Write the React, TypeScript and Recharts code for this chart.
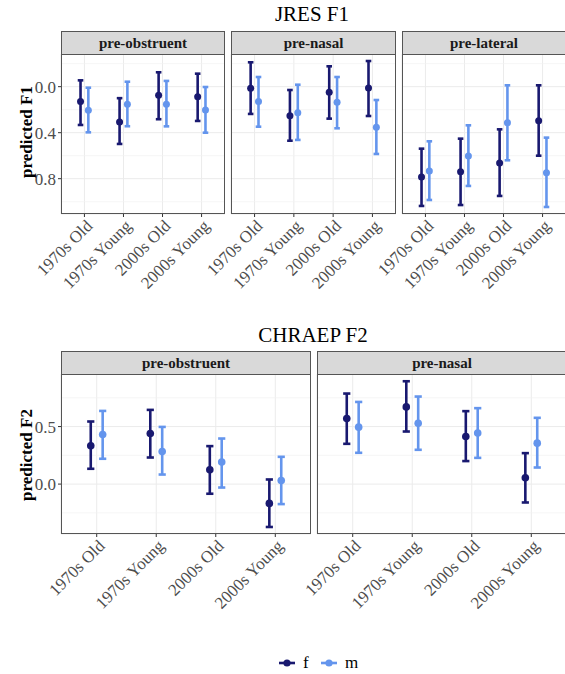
import React from 'react';
import { ScatterChart, Scatter, XAxis, YAxis, CartesianGrid, ErrorBar, ReferenceLine } from 'recharts';

const FONT = '"Liberation Serif", "Times New Roman", serif';

const categories = ['1970s Old', '1970s Young', '2000s Old', '2000s Young'];
const sexes = ['f', 'm'];
const sexColors: Record<string, string> = { f: '#191970', m: '#6495ED' };

// ---- JRES F1 ----
const jresTitle = 'JRES F1';
const jresYLabel = 'predicted F1';
const jresTicks = [0, 0.4, 0.8];
const jresMinor = [-0.2, 0.2, 0.6, 1.0];
const jresDomain = [-0.284, 1.107];

const jresObsF = [0.13, 0.307, 0.075, 0.087];
const jresObsFLo = [-0.055, 0.1, -0.125, -0.113];
const jresObsFHi = [0.333, 0.498, 0.283, 0.298];
const jresObsM = [0.205, 0.153, 0.153, 0.203];
const jresObsMLo = [0.009, -0.043, -0.05, 0.003];
const jresObsMHi = [0.397, 0.344, 0.345, 0.4];

const jresNasF = [0.014, 0.252, 0.049, 0.011];
const jresNasFLo = [-0.212, 0.029, -0.177, -0.223];
const jresNasFHi = [0.237, 0.47, 0.278, 0.255];
const jresNasM = [0.13, 0.226, 0.136, 0.353];
const jresNasMLo = [-0.084, -0.017, -0.084, 0.116];
const jresNasMHi = [0.348, 0.463, 0.362, 0.585];

const jresLatF = [0.785, 0.739, 0.663, 0.296];
const jresLatFLo = [0.539, 0.452, 0.371, -0.012];
const jresLatFHi = [1.037, 1.029, 0.95, 0.6];
const jresLatM = [0.733, 0.603, 0.313, 0.748];
const jresLatMLo = [0.475, 0.336, -0.012, 0.443];
const jresLatMHi = [0.985, 0.863, 0.64, 1.046];

// ---- CHRAEP F2 ----
const chraepTitle = 'CHRAEP F2';
const chraepYLabel = 'predicted F2';
const chraepTicks = [0, 0.5];
const chraepMinor = [-0.25, 0.25, 0.75];
const chraepDomain = [-0.434, 0.957];

const chObsF = [0.333, 0.44, 0.124, -0.168];
const chObsFLo = [0.133, 0.231, -0.084, -0.373];
const chObsFHi = [0.544, 0.645, 0.33, 0.04];
const chObsM = [0.431, 0.283, 0.191, 0.031];
const chObsMLo = [0.22, 0.083, -0.03, -0.174];
const chObsMHi = [0.636, 0.497, 0.396, 0.237];

const chNasF = [0.57, 0.671, 0.413, 0.055];
const chNasFLo = [0.35, 0.457, 0.2, -0.16];
const chNasFHi = [0.787, 0.894, 0.634, 0.269];
const chNasM = [0.495, 0.529, 0.443, 0.356];
const chNasMLo = [0.272, 0.298, 0.228, 0.144];
const chNasMHi = [0.714, 0.761, 0.66, 0.576];

const DODGE = 0.1;

function build(est: number[], lo: number[], hi: number[], offset: number) {
  return categories.map((c, i) => ({
    x: i + offset,
    y: est[i],
    err: [est[i] - lo[i], hi[i] - est[i]],
    cat: c,
  }));
}

const XTick = (props: any) => {
  const { x, y, payload } = props;
  return (
    <g transform={`translate(${x + 9},${y + 8})`}>
      <text textAnchor="end" transform="rotate(-45)" fill="#4d4d4d" fontSize={17} fontFamily={FONT}>
        {categories[payload.value]}
      </text>
    </g>
  );
};

type PanelProps = {
  strip: string;
  plotLeft: number;
  plotTop: number;
  plotW: number;
  plotH: number;
  showY: boolean;
  domain: number[];
  reversed: boolean;
  ticks: number[];
  minor: number[];
  fData: any[];
  mData: any[];
  capW: number;
  r: number;
};

const STRIP_H = 23;
const Y_W = 61;

function Panel(p: PanelProps) {
  const chartLeft = p.plotLeft - Y_W;
  const chartW = p.plotW + Y_W;
  const xAxisH = 100;
  const series = [
    { key: 'f', data: p.fData },
    { key: 'm', data: p.mData },
  ];
  return (
    <>
      <div
        style={{
          position: 'absolute',
          left: p.plotLeft,
          top: p.plotTop - STRIP_H,
          width: p.plotW,
          height: STRIP_H + 1,
          background: '#d9d9d9',
          border: '1px solid #555',
          boxSizing: 'border-box',
          display: 'flex',
          alignItems: 'center',
          justifyContent: 'center',
          fontFamily: FONT,
          fontWeight: 'bold',
          fontSize: 15,
          color: '#1a1a1a',
        }}
      >
        {p.strip}
      </div>
      <div style={{ position: 'absolute', left: chartLeft, top: p.plotTop }}>
        <ScatterChart
          width={chartW}
          height={p.plotH + xAxisH}
          margin={{ top: 0, right: 0, bottom: 0, left: p.showY ? 0 : Y_W }}
        >
          {p.minor.map((v) => (
            <ReferenceLine key={v} y={v} stroke="#f2f2f2" strokeWidth={0.7} ifOverflow="hidden" />
          ))}
          <CartesianGrid stroke="#ebebeb" strokeWidth={1} />
          <XAxis
            type="number"
            dataKey="x"
            domain={[-0.6, 3.6]}
            ticks={[0, 1, 2, 3]}
            interval={0}
            height={xAxisH}
            axisLine={false}
            tickLine={{ stroke: '#333' }}
            tickSize={3}
            tickMargin={2}
            tick={<XTick />}
            allowDataOverflow
          />
          <YAxis
            type="number"
            dataKey="y"
            domain={p.domain}
            reversed={p.reversed}
            ticks={p.ticks}
            interval={0}
            hide={!p.showY}
            width={Y_W}
            axisLine={false}
            tickLine={{ stroke: '#333' }}
            tickSize={3}
            tickMargin={2}
            tick={{ fill: '#4d4d4d', fontSize: 17, fontFamily: FONT }}
            tickFormatter={(v: number) => v.toFixed(1)}
            allowDataOverflow
          />
          {series.map((s) => (
            <Scatter
              key={s.key}
              name={s.key}
              data={s.data}
              fill={sexColors[s.key]}
              isAnimationActive={false}
              shape={(sp: any) => <circle cx={sp.cx} cy={sp.cy} r={p.r} fill={sexColors[s.key]} />}
            >
              <ErrorBar dataKey="err" direction="y" width={p.capW} strokeWidth={2.6} stroke={sexColors[s.key]} isAnimationActive={false} />
            </Scatter>
          ))}
        </ScatterChart>
      </div>
      <div
        style={{
          position: 'absolute',
          left: p.plotLeft,
          top: p.plotTop,
          width: p.plotW,
          height: p.plotH,
          border: '1px solid #555',
          boxSizing: 'border-box',
          pointerEvents: 'none',
        }}
      />
    </>
  );
}

function Title({ text, cx, top }: { text: string; cx: number; top: number }) {
  return (
    <div
      style={{
        position: 'absolute',
        left: cx - 150,
        width: 300,
        top,
        textAlign: 'center',
        fontFamily: FONT,
        fontSize: 21,
        color: '#000',
        lineHeight: '24px',
      }}
    >
      {text}
    </div>
  );
}

function YLabel({ text, x, cy }: { text: string; x: number; cy: number }) {
  return (
    <svg style={{ position: 'absolute', left: 0, top: 0, overflow: 'visible' }} width={1} height={1}>
      <text
        x={x}
        y={cy}
        transform={`rotate(-90, ${x}, ${cy})`}
        textAnchor="middle"
        fontFamily={FONT}
        fontWeight="bold"
        fontSize={17}
        fill="#000"
      >
        {text}
      </text>
    </svg>
  );
}

function Legend() {
  const items = sexes.map((s, i) => ({ s, x0: 279 + i * 42 }));
  return (
    <svg style={{ position: 'absolute', left: 0, top: 640 }} width={565} height={34}>
      {items.map((it) => (
        <g key={it.s}>
          <line x1={it.x0} x2={it.x0 + 16} y1={23} y2={23} stroke={sexColors[it.s]} strokeWidth={2.6} />
          <circle cx={it.x0 + 8} cy={23} r={3.6} fill={sexColors[it.s]} />
          <text x={it.x0 + 24} y={28} fontFamily={FONT} fontSize={17} fill="#000">
            {it.s}
          </text>
        </g>
      ))}
    </svg>
  );
}

export default function App() {
  const topRow = [
    { strip: 'pre-obstruent', left: 61, w: 164, f: build(jresObsF, jresObsFLo, jresObsFHi, -DODGE), m: build(jresObsM, jresObsMLo, jresObsMHi, DODGE) },
    { strip: 'pre-nasal', left: 231, w: 165, f: build(jresNasF, jresNasFLo, jresNasFHi, -DODGE), m: build(jresNasM, jresNasMLo, jresNasMHi, DODGE) },
    { strip: 'pre-lateral', left: 402, w: 164, f: build(jresLatF, jresLatFLo, jresLatFHi, -DODGE), m: build(jresLatM, jresLatMLo, jresLatMHi, DODGE) },
  ];
  const bottomRow = [
    { strip: 'pre-obstruent', left: 61, w: 250, f: build(chObsF, chObsFLo, chObsFHi, -DODGE), m: build(chObsM, chObsMLo, chObsMHi, DODGE) },
    { strip: 'pre-nasal', left: 317, w: 250, f: build(chNasF, chNasFLo, chNasFHi, -DODGE), m: build(chNasM, chNasMLo, chNasMHi, DODGE) },
  ];
  return (
    <div style={{ position: 'absolute', left: 0, top: 0, width: 565, height: 674, background: '#fff', overflow: 'hidden' }}>
      <Title text={jresTitle} cx={312} top={2} />
      {topRow.map((pnl, i) => (
        <Panel
          key={'t' + i}
          strip={pnl.strip}
          plotLeft={pnl.left}
          plotTop={54}
          plotW={pnl.w}
          plotH={160}
          showY={i === 0}
          domain={jresDomain}
          reversed
          ticks={jresTicks}
          minor={jresMinor}
          fData={pnl.f}
          mData={pnl.m}
          capW={2.8}
          r={3.5}
        />
      ))}
      <YLabel text={jresYLabel} x={32} cy={132} />

      <Title text={chraepTitle} cx={313} top={323} />
      {bottomRow.map((pnl, i) => (
        <Panel
          key={'b' + i}
          strip={pnl.strip}
          plotLeft={pnl.left}
          plotTop={374}
          plotW={pnl.w}
          plotH={160}
          showY={i === 0}
          domain={chraepDomain}
          reversed={false}
          ticks={chraepTicks}
          minor={chraepMinor}
          fData={pnl.f}
          mData={pnl.m}
          capW={3.6}
          r={3.8}
        />
      ))}
      <YLabel text={chraepYLabel} x={32} cy={455} />
      <Legend />
    </div>
  );
}
